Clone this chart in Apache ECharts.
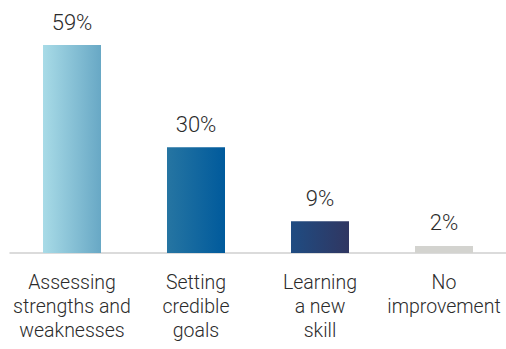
<!DOCTYPE html>
<html>
<head>
<meta charset="utf-8">
<script src="https://cdn.jsdelivr.net/npm/echarts@6/dist/echarts.min.js"></script>
<style>
  html, body { margin: 0; padding: 0; background: #fff; }
  #chart { width: 506px; height: 349px; }
</style>
</head>
<body>
<div id="chart"></div>
<script>
const categories = ['Assessing\nstrengths and\nweaknesses', 'Setting\ncredible\ngoals', 'Learning\na new\nskill', 'No\nimprovement'];
const values = [59, 30, 9, 2];
// left/right colours of each bar's horizontal gradient
const barColors = [
  ['#a8dbe7', '#68a8c5'],
  ['#2675a2', '#005a9c'],
  ['#1f4c82', '#303661'],
  ['#d3d3cf', '#d3d3cf']
];

const fontFamily = 'Roboto, sans-serif';

const chart = echarts.init(document.getElementById('chart'), null, { renderer: 'svg' });

chart.setOption({
  animation: false,
  grid: { left: 10, width: 503, top: 45, bottom: 96 },
  xAxis: {
    type: 'category',
    data: categories,
    axisLine: { lineStyle: { color: '#d0d0d0', width: 1.5 } },
    axisTick: { show: false },
    axisLabel: {
      color: '#2b2b2b',
      fontFamily: fontFamily,
      fontWeight: 300,
      fontSize: 19.5,
      lineHeight: 24,
      margin: 17,
      interval: 0
    }
  },
  yAxis: {
    type: 'value',
    min: 0,
    max: 59,
    show: false,
    splitLine: { show: false }
  },
  series: [{
    type: 'bar',
    barWidth: 58,
    data: values.map((v, i) => ({
      value: v,
      itemStyle: {
        color: new echarts.graphic.LinearGradient(0, 0, 1, 0, [
          { offset: 0, color: barColors[i][0] },
          { offset: 1, color: barColors[i][1] }
        ])
      }
    })),
    label: {
      show: true,
      position: 'top',
      distance: 12,
      formatter: '{c}%',
      color: '#2b2b2b',
      fontFamily: fontFamily,
      fontWeight: 300,
      fontSize: 22
    }
  }]
});
</script>
</body>
</html>
